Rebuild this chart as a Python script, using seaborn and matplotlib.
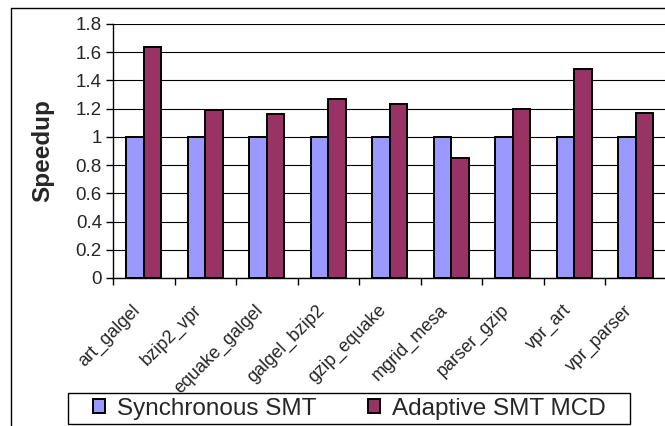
import matplotlib
matplotlib.use("Agg")
import matplotlib.pyplot as plt
from matplotlib.lines import Line2D
from matplotlib.patches import Rectangle
from matplotlib.transforms import ScaledTranslation
from matplotlib.ticker import FixedLocator, NullFormatter
import seaborn as sns
import pandas as pd

# Workload pairs and measured speedups
workloads = ["art_galgel", "bzip2_vpr", "equake_galgel", "galgel_bzip2",
             "gzip_equake", "mgrid_mesa", "parser_gzip", "vpr_art", "vpr_parser"]
sync_smt = [1.0, 1.0, 1.0, 1.0, 1.0, 1.0, 1.0, 1.0, 1.0]
adaptive_mcd = [1.64, 1.19, 1.16, 1.27, 1.23, 0.85, 1.20, 1.48, 1.17]
series_names = ["Synchronous SMT", "Adaptive SMT MCD"]
colors = ["#9999FF", "#993366"]
y_ticks = [0, 0.2, 0.4, 0.6, 0.8, 1.0, 1.2, 1.4, 1.6, 1.8]
y_tick_labels = ["0", "0.2", "0.4", "0.6", "0.8", "1", "1.2", "1.4", "1.6", "1.8"]

df = pd.DataFrame({
    "workload": workloads * 2,
    "speedup": sync_smt + adaptive_mcd,
    "config": [series_names[0]] * len(workloads) + [series_names[1]] * len(workloads),
})

sns.set_theme(style="white")
plt.rcParams["font.family"] = ["Liberation Sans", "DejaVu Sans"]

W, H = 665, 426
fig = plt.figure(figsize=(W / 100, H / 100), dpi=100)
ax = fig.add_axes([113 / W, 1 - 278 / H, 553.5 / W, 254 / H])

sns.barplot(data=df, x="workload", y="speedup", hue="config",
            palette=colors, saturation=1, width=0.57, gap=0, ax=ax,
            edgecolor="black", linewidth=1.4, legend=False)

ax.set_xlim(-0.5, len(workloads) - 0.5)
ax.set_ylim(0, 1.8)
ax.set_yticks(y_ticks)
ax.set_yticklabels(y_tick_labels)
ax.grid(axis="y", color="black", linewidth=0.8)
ax.set_axisbelow(True)

for side in ["top", "right"]:
    ax.spines[side].set_visible(False)
for side in ["left", "bottom"]:
    ax.spines[side].set_color("black")
    ax.spines[side].set_linewidth(1.0)

ax.tick_params(axis="y", which="major", direction="out", length=5, width=1,
               color="black", labelsize=13.5, pad=3, left=True)

# category labels at centers, tick marks between categories
ax.set_xticks(range(len(workloads)))
ax.set_xticklabels(workloads, rotation=45, ha="right", rotation_mode="anchor",
                   fontsize=13)
ax.tick_params(axis="x", which="major", length=0, pad=17)
shift = ScaledTranslation(-12 / 100, 0, fig.dpi_scale_trans)
for lbl in ax.get_xticklabels():
    lbl.set_transform(lbl.get_transform() + shift)
ax.xaxis.set_minor_locator(FixedLocator([i - 0.5 for i in range(len(workloads) + 1)]))
ax.xaxis.set_minor_formatter(NullFormatter())
ax.tick_params(axis="x", which="minor", direction="out", length=5, width=1,
               color="black", bottom=True)

ax.set_xlabel("")
ax.set_ylabel("Speedup", fontsize=17.5, fontweight="bold", va="center")
ax.yaxis.set_label_coords((43 - 113) / 553.5, 0.5)

# legend entries, with a separately drawn box
handles = [Rectangle((0, 0), 1, 1, facecolor=c, edgecolor="black", linewidth=1.4)
           for c in colors]
fig.legend(handles, series_names, loc="center",
           bbox_to_anchor=(349.5 / W, 1 - 408.5 / H),
           ncol=2, frameon=False, fontsize=17.5,
           handlelength=0.5, handleheight=0.55, handletextpad=0.5,
           borderpad=0, borderaxespad=0, columnspacing=2.1)
fig.add_artist(Rectangle((68 / W, 1 - 424 / H), (630 - 68) / W, 31 / H,
                         transform=fig.transFigure, facecolor="none",
                         edgecolor="black", linewidth=1.0))

# outer chart frame
x0 = 11 / W
ytop = 1 - 7.5 / H
fig.add_artist(Line2D([x0, x0], [0, ytop], color="black", linewidth=1.0))
fig.add_artist(Line2D([x0, 1], [ytop, ytop], color="black", linewidth=1.0))

fig.savefig("out.png", dpi=100)
